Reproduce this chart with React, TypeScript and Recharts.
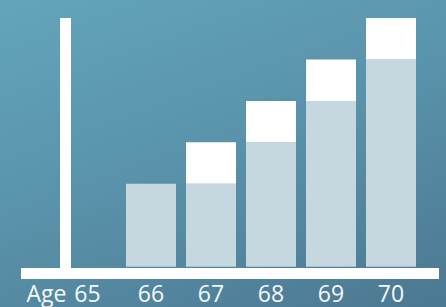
import { BarChart, Bar, XAxis, YAxis, ReferenceLine, Label } from 'recharts';

const ages = ['65', '66', '67', '68', '69', '70'];
const baseBenefit = [0, 2, 2, 3, 4, 5];
const extraBenefit = [0, 0, 1, 1, 1, 1];

const data = ages.map((age, i) => ({
  age,
  base: baseBenefit[i],
  extra: extraBenefit[i],
}));

const font = "'Open Sans', sans-serif";

// first tick sits a little left of its band centre, next to the "Age" label
function AgeTick({ x, y, payload, index }: any) {
  return (
    <text
      x={x + (index === 0 ? -3.5 : 0)}
      y={y}
      dy='0.71em'
      textAnchor='middle'
      fill='#f4f8fa'
      fontSize={23}
      fontFamily={font}
    >
      {payload.value}
    </text>
  );
}

export default function App() {
  return (
    <div
      style={{
        position: 'fixed',
        left: 0,
        top: 0,
        width: 446,
        height: 307,
        background: 'linear-gradient(160deg, #63a5ba 0%, #5a94ac 45%, #4c7891 100%)',
      }}
    >
      <BarChart
        width={446}
        height={307}
        data={data}
        margin={{ top: 18, right: 7, bottom: 0, left: 21 }}
        barSize={50}
      >
        <XAxis
          dataKey='age'
          height={33.5}
          padding={{ left: 40, right: 18 }}
          axisLine={{ stroke: '#ffffff', strokeWidth: 11 }}
          tickLine={false}
          tickSize={6}
          tickMargin={5.7}
          tick={<AgeTick />}
          interval={0}
        >
          <Label
            value='Age'
            position='insideBottomLeft'
            offset={5.5}
            fill='#f4f8fa'
            fontSize={23}
            fontFamily={font}
          />
        </XAxis>
        <YAxis hide domain={[-0.164, 6]} />
        <ReferenceLine
          x='65'
          position='start'
          shape={(p: any) => (
            <line
              x1={p.x1 + 4.5}
              x2={p.x2 + 4.5}
              y1={p.y1}
              y2={p.y2}
              stroke='#ffffff'
              strokeWidth={11}
            />
          )}
        />
        <Bar dataKey='base' stackId='a' fill='#c5d7df' isAnimationActive={false} />
        <Bar dataKey='extra' stackId='a' fill='#ffffff' isAnimationActive={false} />
      </BarChart>
    </div>
  );
}
